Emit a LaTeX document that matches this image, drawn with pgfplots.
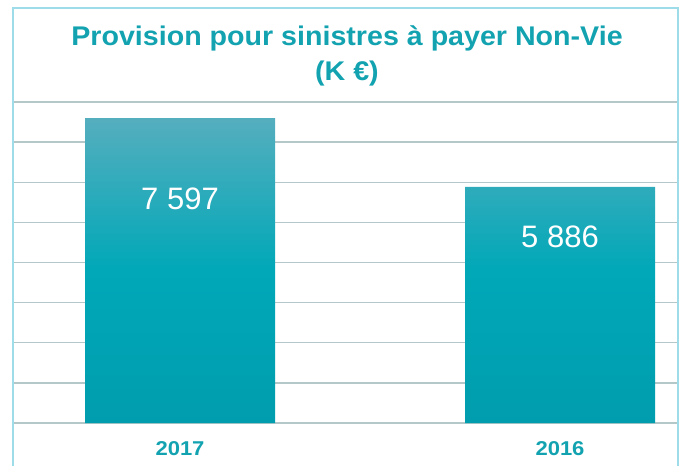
\documentclass[border=0pt]{standalone}
\usepackage{pgfplots}
\pgfplotsset{compat=1.18}
\usepackage{fontspec}
\setmainfont{Liberation Sans}
\definecolor{teal1}{HTML}{12A2B0}
\definecolor{bordc}{HTML}{9EDCEA}
\definecolor{gridc}{HTML}{B4C8CA}
\definecolor{bartop}{HTML}{55AEBE}
\definecolor{barmid}{HTML}{00A8B8}
\definecolor{barbot}{HTML}{009DAE}
\begin{document}
\begin{tikzpicture}[x=1pt,y=1pt]
\useasboundingbox (0,0) rectangle (684,466);
\begin{axis}[
  at={(13pt,43pt)}, anchor=south west,
  scale only axis, width=665pt, height=321pt,
  xmin=-0.4395, xmax=1.3105, ymin=0, ymax=8000,
  axis x line*=bottom, axis y line*=left,
  x axis line style={draw=gridc, line width=1.3pt, -},
  y axis line style={draw=none},
  ytick={0,1000,...,8000}, yticklabels={},
  ytick style={draw=none},
  ymajorgrids, grid style={draw=gridc, line width=1.3pt},
  xtick=data, xticklabels={2017,2016},
  xtick style={draw=none},
  xticklabel style={font=\fontsize{20}{24}\selectfont\bfseries, text=teal1, anchor=center, yshift=-26pt, xscale=1.1},
]
\addplot[ybar, bar width=0.5, bar shift=0pt, draw=none,
  top color=bartop, bottom color=barbot, middle color=barmid]
  coordinates {(0,7597) (1,5886)};
\node[text=white, font=\fontsize{31}{36}\selectfont] at (axis cs:0,5575) {7 597};
\node[text=white, font=\fontsize{31}{36}\selectfont] at (axis cs:1,4650) {5 886};
\end{axis}
\draw[bordc, line width=2pt] (13,0) -- (13,458) -- (678,458) -- (678,0);
\node[text=teal1, font=\fontsize{27}{32}\selectfont\bfseries, xscale=1.06] at (347,428) {Provision pour sinistres à payer Non-Vie};
\node[text=teal1, font=\fontsize{27}{32}\selectfont\bfseries, xscale=1.06] at (347,392) {(K €)};
\end{tikzpicture}
\end{document}
